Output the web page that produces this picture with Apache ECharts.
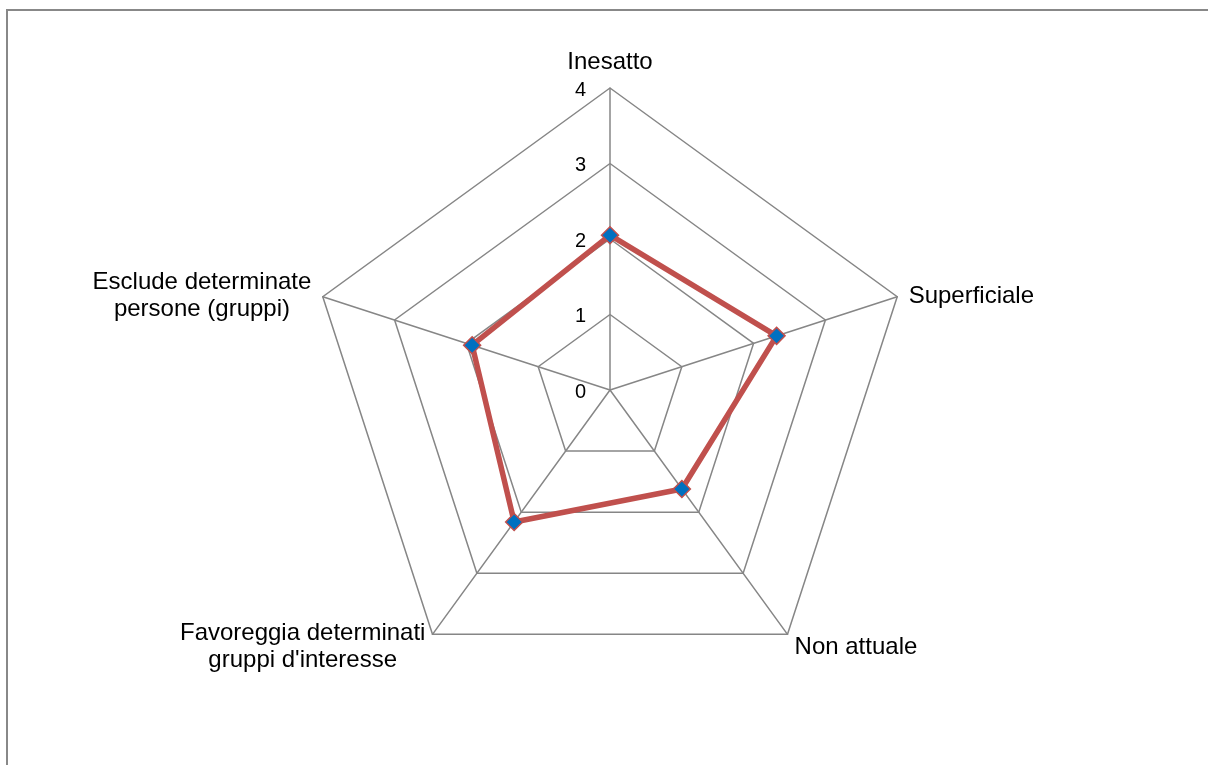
<!DOCTYPE html>
<html>
<head>
<meta charset="utf-8">
<script src="https://cdn.jsdelivr.net/npm/echarts@6/dist/echarts.min.js"></script>
<style>
  html, body { margin: 0; padding: 0; background: #fff; }
  #chart { width: 1208px; height: 765px; }
</style>
</head>
<body>
<div id="chart"></div>
<script>
// categories clockwise from the top, as in the picture
const categories = [
  'Inesatto',
  'Superficiale',
  'Non attuale',
  'Favoreggia determinati\ngruppi d\'interesse',
  'Esclude determinate\npersone (gruppi)'
]
const values = [2.05, 2.32, 1.62, 2.16, 1.92]
const axisMax = 4

// echarts lays the radar out counterclockwise, so keep the first and reverse the rest
const order = [0, 4, 3, 2, 1]

const tickLabel = {
  show: true,
  color: '#000',
  margin: 24,
  formatter: v => '{t|' + v + '}',
  rich: {
    t: { fontSize: 20, color: '#000', padding: [4, 0, 0, 0] }
  }
}

const chart = echarts.init(document.getElementById('chart'))
chart.setOption({
  textStyle: { fontFamily: 'Liberation Sans, Arial, sans-serif' },
  animation: false,
  graphic: [{
    type: 'rect',
    shape: { x: 7, y: 10, width: 1400, height: 1000 },
    style: { fill: 'none', stroke: '#888', lineWidth: 2 },
    silent: true
  }],
  radar: {
    center: [610, 390],
    radius: 302,
    shape: 'polygon',
    splitNumber: 4,
    nameGap: 12,
    indicator: order.map((i, k) => ({
      name: categories[i],
      min: 0,
      max: axisMax,
      axisLabel: k === 0 ? tickLabel : { show: false }
    })),
    axisName: {
      color: '#000',
      fontSize: 24,
      padding: [6, 0, 0, 0],
      formatter: name => name.split('\n').map(s => '{c|' + s + '}').join('\n'),
      rich: {
        c: { align: 'center', fontSize: 24, lineHeight: 27, color: '#000' }
      }
    },
    axisLabel: tickLabel,
    axisTick: { show: false },
    axisLine: { lineStyle: { color: '#868686', width: 1.5 } },
    splitLine: { lineStyle: { color: '#868686', width: 1.5 } },
    splitArea: { show: false }
  },
  series: [{
    type: 'radar',
    symbol: 'diamond',
    symbolSize: 17,
    lineStyle: { color: '#C0504D', width: 5.5 },
    itemStyle: { color: '#0070C0', borderColor: '#C0504D', borderWidth: 1.5 },
    data: [{ value: order.map(i => values[i]) }]
  }]
})
</script>
</body>
</html>
